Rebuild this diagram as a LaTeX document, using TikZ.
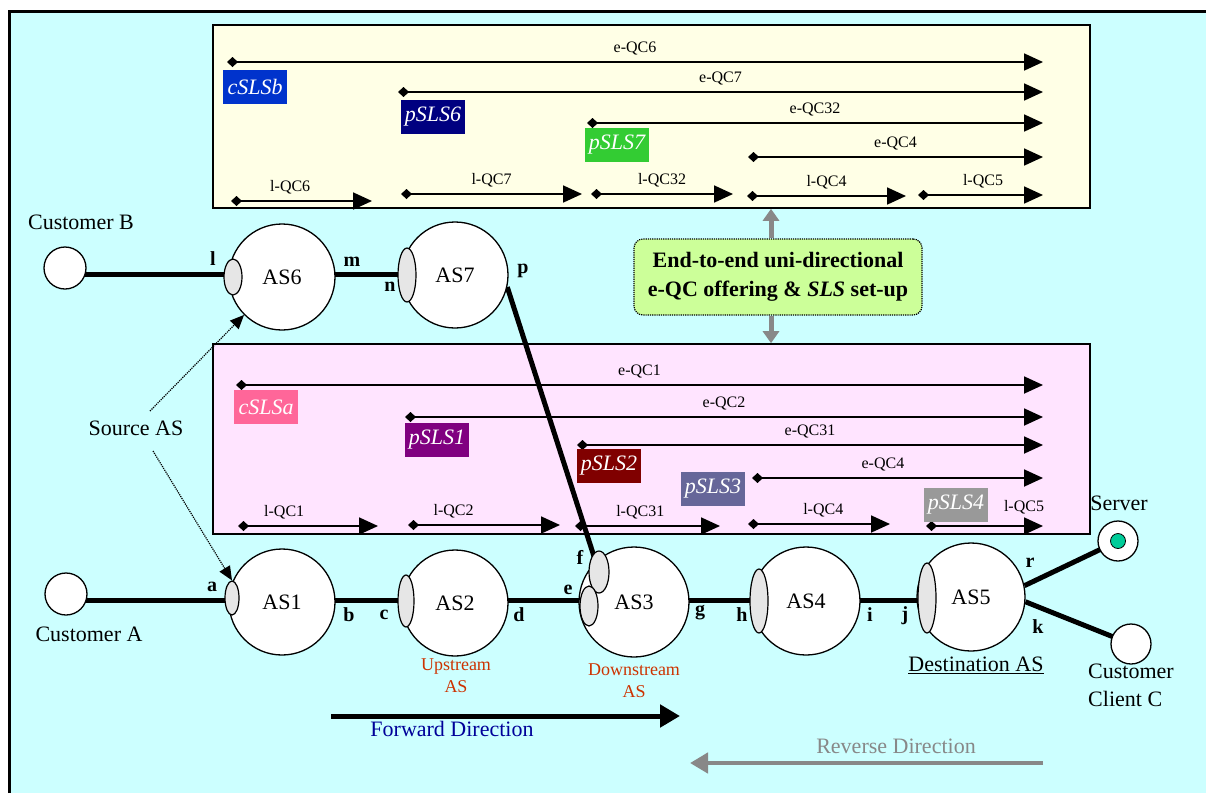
\documentclass[tikz,border=0pt]{standalone}
\usepackage{fontspec}
\setmainfont{Liberation Serif}
\usetikzlibrary{arrows.meta,shapes.geometric}

\definecolor{bgcyan}{HTML}{CCFFFF}
\definecolor{paleyellow}{HTML}{FFFFE6}
\definecolor{palepink}{HTML}{FFE4FF}
\definecolor{offergreen}{HTML}{CCFF99}
\definecolor{portgray}{HTML}{E6E6E6}
\definecolor{slsb}{HTML}{0033CC}
\definecolor{slssix}{HTML}{000080}
\definecolor{slsseven}{HTML}{33CC33}
\definecolor{slsa}{HTML}{FF6699}
\definecolor{slsone}{HTML}{800080}
\definecolor{slstwo}{HTML}{800000}
\definecolor{slsthree}{HTML}{666699}
\definecolor{slsfour}{HTML}{999999}
\definecolor{asnote}{HTML}{CC3300}
\definecolor{fwdblue}{HTML}{000099}
\definecolor{revgray}{HTML}{888888}
\definecolor{serverdotc}{HTML}{00CC99}

\pgfdeclarelayer{back}
\pgfdeclarelayer{mid}
\pgfsetlayers{back,mid,main}

\tikzset{
  bigtext/.style={font=\fontsize{22}{26}\selectfont},
  qcfont/.style={font=\fontsize{16}{18}\selectfont},
  asnode/.style={circle, draw, line width=1.3pt, fill=white, minimum size=106pt,
    inner sep=0pt, font=\fontsize{22}{26}\selectfont},
  endpt/.style={circle, draw, line width=1.3pt, fill=white, minimum size=42pt, inner sep=0pt},
  port/.style={ellipse, draw, line width=1.2pt, fill=portgray, inner sep=0pt},
  portlbl/.style={font=\fontsize{20}{24}\selectfont\bfseries},
  link/.style={line width=5pt},
  qc/.style={line width=1.8pt, {Diamond[length=11pt,width=10pt]}-{Triangle[length=19pt,width=17pt]}},
  sls/.style={text=white, minimum width=64pt, minimum height=34pt, inner sep=0pt,
    font=\fontsize{22}{26}\selectfont\itshape},
  panel/.style={draw, line width=1.6pt, inner sep=0pt},
  grayarrow/.style={draw=revgray, line width=5pt, -{Triangle[length=12pt,width=16pt]}},
}

% QoS class arrow: start x, end x, y, label position, label
\newcommand\qcline[5]{\draw[qc] (#1,#3) -- node[pos=#4, yshift=14pt, qcfont] {#5} (#2,#3);}

\begin{document}
\begin{tikzpicture}[x=1pt,y=-1pt]
\useasboundingbox (0,0) rectangle (1206,793);

\begin{pgfonlayer}{back}
  % outer frame
  \fill[bgcyan] (9.5,11) rectangle (1206,793);
  \draw[line width=3pt] (9.5,793) -- (9.5,11) -- (1206,11);

  % e-QC / l-QC panels
  \node[panel, fill=paleyellow, minimum width=877pt, minimum height=183pt] (topbox) at (651.5,116.5) {};
  \node[panel, fill=palepink, minimum width=877pt, minimum height=190pt] (midbox) at (651.5,439) {};

  % upper panel arrows
  \qcline{227}{1043}{62}{0.5}{e-QC6}
  \qcline{398}{1043}{92}{0.5}{e-QC7}
  \qcline{587}{1043}{123}{0.5}{e-QC32}
  \qcline{748}{1043}{157}{0.5}{e-QC4}
  \qcline{231}{372}{201}{0.42}{l-QC6}
  \qcline{401}{582}{194}{0.5}{l-QC7}
  \qcline{591}{733}{194}{0.5}{l-QC32}
  \qcline{747}{906}{196}{0.5}{l-QC4}
  \qcline{918}{1043}{195}{0.52}{l-QC5}

  % lower panel arrows
  \qcline{236}{1043}{385}{0.5}{e-QC1}
  \qcline{405}{1043}{417}{0.5}{e-QC2}
  \qcline{577}{1043}{445}{0.5}{e-QC31}
  \qcline{752}{1043}{478}{0.45}{e-QC4}
  \qcline{238}{378}{526}{0.33}{l-QC1}
  \qcline{408}{560}{525}{0.3}{l-QC2}
  \qcline{575}{720}{526}{0.45}{l-QC31}
  \qcline{748}{890}{524}{0.53}{l-QC4}
  \qcline{926}{1043}{526}{0.5}{}
\end{pgfonlayer}

% SLS tags
\node[sls, fill=slsb] (cslsb) at (255,87) {cSLSb};
\node[sls, fill=slssix] (psls6) at (433,117) {pSLS6};
\node[sls, fill=slsseven] (psls7) at (617,145) {pSLS7};
\node[sls, fill=slsa] (cslsa) at (266,407) {cSLSa};
\node[sls, fill=slsone] (psls1) at (437,440) {pSLS1};
\node[sls, fill=slstwo] (psls2) at (609,466) {pSLS2};
\node[sls, fill=slsthree] (psls3) at (713,489) {pSLS3};
\node[sls, fill=slsfour] (psls4) at (956,505) {pSLS4};
\node[qcfont] (lqc5) at (1024,507) {l-QC5};

% e-QC offering box and its links to both panels
\node[draw, densely dotted, line width=1.2pt, rounded corners=9pt, fill=offergreen,
      minimum width=288pt, minimum height=76pt, align=center,
      font=\fontsize{22}{29}\selectfont\bfseries] (offer) at (778,277)
  {End-to-end uni-directional\\e-QC offering \& \textit{SLS} set-up};
\coordinate (gx) at (771,0);
\draw[grayarrow] (offer.north -| gx) -- (topbox.south -| gx);
\draw[grayarrow] (offer.south -| gx) -- (midbox.north -| gx);

% customers and server
\node[endpt] (custB) at (65,268) {};
\node[bigtext] (custBlbl) at (81,222) {Customer B};
\node[endpt] (custA) at (66,594) {};
\node[bigtext] (custAlbl) at (89,634) {Customer A};
\node[endpt, minimum size=40pt] (server) at (1118,541) {};
\node[circle, draw, line width=0.8pt, fill=serverdotc, minimum size=15pt, inner sep=0pt] (serverdot) at (server) {};
\node[bigtext] (serverlbl) at (1119,503) {Server};
\node[endpt, minimum size=40pt] (custC) at (1131,644) {};
\node[bigtext, anchor=north west, align=left, font=\fontsize{22}{28}\selectfont, inner sep=0pt] (custClbl) at (1088,664) {Customer\\Client C};

% autonomous systems
\node[asnode] (as6) at (282,277) {AS6};
\node[asnode] (as7) at (455,275) {AS7};
\node[asnode] (as1) at (282,602) {AS1};
\node[asnode] (as2) at (455,603) {AS2};
\node[asnode, minimum size=110pt] (as3) at (634,602) {AS3};
\node[asnode, minimum size=108pt] (as4) at (806,601) {AS4};
\node[asnode, minimum size=108pt] (as5) at (971,597) {AS5};

% border ports
\node[port, minimum width=18pt, minimum height=36pt] (pl) at (233,277) {};
\node[port, minimum width=18pt, minimum height=54pt] (pn) at (407,275) {};
\node[port, minimum width=14pt, minimum height=34pt] (pa) at (232,598) {};
\node[port, minimum width=16pt, minimum height=52pt] (pc) at (406,601) {};
\node[port, minimum width=20pt, minimum height=42pt] (pf) at (599,572) {};
\node[port, minimum width=18pt, minimum height=40pt] (pe) at (589,606) {};
\node[port, minimum width=18pt, minimum height=64pt] (ph) at (759,601) {};
\node[port, minimum width=18pt, minimum height=70pt] (pj) at (927,598) {};

% port letters
\node[portlbl] (ll) at (213,259) {l};
\node[portlbl] (lm) at (352,262) {m};
\node[portlbl] (ln) at (390,287) {n};
\node[portlbl] (lp) at (523,271) {p};
\node[portlbl] (la) at (212,587) {a};
\node[portlbl] (lb) at (349,615) {b};
\node[portlbl] (lc) at (384,615) {c};
\node[portlbl] (ld) at (519,615) {d};
\node[portlbl] (le) at (568,590) {e};
\node[portlbl] (lf) at (580,557) {f};
\node[portlbl] (lg) at (700,613) {g};
\node[portlbl] (lh) at (742,615) {h};
\node[portlbl] (li) at (870,615) {i};
\node[portlbl] (lj) at (905,616) {j};
\node[portlbl] (lr) at (1030,563) {r};
\node[portlbl] (lk) at (1038,627) {k};

% AS role notes
\node[font=\fontsize{18}{22}\selectfont, text=asnote, align=center] (upnote) at (456,676) {Upstream\\AS};
\node[font=\fontsize{18}{22}\selectfont, text=asnote, align=center] (downnote) at (634,681) {Downstream\\AS};
\node[bigtext] (destnote) at (976,665) {\underline{Destination AS}};
\node[bigtext] (src) at (136,428) {Source AS};
\coordinate (srcup) at (150,411);
\coordinate (srcdown) at (153,451);
\draw[densely dotted, line width=1.2pt, -{Triangle[length=14pt,width=12pt]}] (srcup) -- (as6.225);
\draw[densely dotted, line width=1.2pt, -{Triangle[length=14pt,width=12pt]}] (srcdown) -- (pa.north);

% direction arrows
\coordinate (fwdS) at (331,716);
\coordinate (fwdE) at (680,716);
\draw[line width=5pt, -{Triangle[length=20pt,width=22pt]}] (fwdS) -- (fwdE);
\node[bigtext, text=fwdblue] (fwdlbl) at (452,729) {Forward Direction};
\coordinate (revS) at (1043,763);
\coordinate (revE) at (690,763);
\draw[draw=revgray, line width=4.5pt, -{Triangle[length=18pt,width=20pt]}] (revS) -- (revE);
\node[bigtext, text=revgray] (revlbl) at (896,746) {Reverse Direction};

% inter-domain links
\coordinate (rowB) at (0,274);
\coordinate (rowA) at (0,600);
\begin{pgfonlayer}{mid}
  \draw[link] (custB |- rowB) -- (as6 |- rowB);
  \draw[link] (as6 |- rowB) -- (as7 |- rowB);
  \draw[link] (as7.-13) -- (pf.center);
  \draw[link] (custA |- rowA) -- (as1 |- rowA);
  \draw[link] (as1 |- rowA) -- (as2 |- rowA);
  \draw[link] (as2 |- rowA) -- (as3 |- rowA);
  \draw[link] (as3 |- rowA) -- (as4 |- rowA);
  \draw[link] (as4 |- rowA) -- (as5 |- rowA);
  \draw[link] (as5.12) -- (server.center);
  \draw[link] (as5.-5) -- (custC.center);
\end{pgfonlayer}
\end{tikzpicture}
\end{document}
